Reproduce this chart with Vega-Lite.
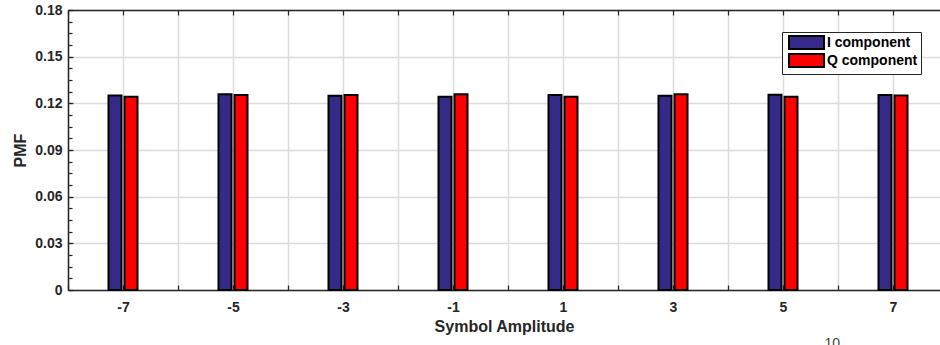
{
  "$schema": "https://vega.github.io/schema/vega-lite/v6.json",
  "width": 872,
  "height": 280,
  "autosize": {"type": "none"},
  "padding": {"left": 68, "top": 10, "right": 0, "bottom": 55},
  "config": {
    "font": "Liberation Sans",
    "view": {"stroke": null},
    "axis": {
      "labelFont": "Liberation Sans",
      "labelFontSize": 14,
      "labelFontWeight": "bold",
      "labelColor": "#262626",
      "titleFont": "Liberation Sans",
      "titleFontSize": 16,
      "titleFontWeight": "bold",
      "titleColor": "#262626",
      "domainColor": "#262626",
      "domainWidth": 1.5,
      "tickColor": "#262626",
      "tickWidth": 1.2,
      "gridColor": "#dcdcdc",
      "gridWidth": 1.5,
      "gridOpacity": 1
    }
  },
  "data": {
    "values": [
      {"amp": -7, "component": "I component", "pmf": 0.1250},
      {"amp": -7, "component": "Q component", "pmf": 0.1242},
      {"amp": -5, "component": "I component", "pmf": 0.1258},
      {"amp": -5, "component": "Q component", "pmf": 0.1254},
      {"amp": -3, "component": "I component", "pmf": 0.1248},
      {"amp": -3, "component": "Q component", "pmf": 0.1254},
      {"amp": -1, "component": "I component", "pmf": 0.1242},
      {"amp": -1, "component": "Q component", "pmf": 0.1258},
      {"amp": 1, "component": "I component", "pmf": 0.1253},
      {"amp": 1, "component": "Q component", "pmf": 0.1242},
      {"amp": 3, "component": "I component", "pmf": 0.1248},
      {"amp": 3, "component": "Q component", "pmf": 0.1258},
      {"amp": 5, "component": "I component", "pmf": 0.1255},
      {"amp": 5, "component": "Q component", "pmf": 0.1243},
      {"amp": 7, "component": "I component", "pmf": 0.1254},
      {"amp": 7, "component": "Q component", "pmf": 0.1251}
    ]
  },
  "title": {
    "text": "10",
    "orient": "bottom",
    "anchor": "end",
    "frame": "group",
    "fontSize": 14,
    "fontWeight": "normal",
    "color": "#444444",
    "offset": 3,
    "dx": -100
  },
  "layer": [
    {
      "mark": {"type": "point", "opacity": 0},
      "encoding": {
        "x": {
          "field": "amp",
          "type": "quantitative",
          "scale": {"domain": [-8, 7.8545], "nice": false, "zero": false},
          "axis": {
            "orient": "bottom",
            "values": [-8, -7, -6, -5, -4, -3, -2, -1, 0, 1, 2, 3, 4, 5, 6, 7],
            "labelExpr": "datum.value % 2 != 0 ? toString(datum.value) : ''",
            "title": "Symbol Amplitude",
            "grid": true,
            "ticks": true,
            "tickSize": -5,
            "labelPadding": 15,
            "titlePadding": 4
          }
        },
        "y": {
          "field": "pmf",
          "type": "quantitative",
          "scale": {"domain": [0, 0.18], "nice": false, "zero": true},
          "axis": {
            "orient": "left",
            "values": [0, 0.03, 0.06, 0.09, 0.12, 0.15, 0.18],
            "format": ".2~f",
            "title": "PMF",
            "grid": true,
            "ticks": true,
            "tickSize": -5,
            "labelPadding": 11,
            "titlePadding": 6
          }
        }
      }
    },
    {
      "mark": {"type": "point", "opacity": 0},
      "encoding": {
        "x": {
          "field": "amp",
          "type": "quantitative",
          "scale": {"domain": [-8, 7.8545], "nice": false, "zero": false},
          "axis": {
            "orient": "top",
            "values": [-8, -7, -6, -5, -4, -3, -2, -1, 0, 1, 2, 3, 4, 5, 6, 7],
            "labels": false,
            "grid": false,
            "ticks": true,
            "tickSize": -5,
            "title": null
          }
        },
        "y": {
          "field": "pmf",
          "type": "quantitative",
          "scale": {"domain": [0, 0.18], "nice": false, "zero": true},
          "axis": {
            "orient": "left",
            "values": [0, 0.0075, 0.015, 0.0225, 0.03, 0.0375, 0.045, 0.0525, 0.06, 0.0675, 0.075, 0.0825, 0.09, 0.0975, 0.105, 0.1125, 0.12, 0.1275, 0.135, 0.1425, 0.15, 0.1575, 0.165, 0.1725, 0.18],
            "labels": false,
            "grid": false,
            "domain": false,
            "ticks": true,
            "tickSize": -4,
            "title": null
          }
        }
      }
    },
    {
      "mark": {"type": "bar", "stroke": "#000000", "strokeWidth": 2},
      "encoding": {
        "x": {
          "field": "amp",
          "type": "ordinal",
          "scale": {
            "domain": [-7, -5, -3, -1, 1, 3, 5, 7],
            "paddingInner": 0.73636,
            "paddingOuter": 0.33182,
            "align": 0.5548
          },
          "axis": null
        },
        "xOffset": {
          "field": "component",
          "type": "nominal",
          "scale": {"paddingInner": 0.1875, "paddingOuter": 0}
        },
        "y": {
          "field": "pmf",
          "type": "quantitative",
          "scale": {"domain": [0, 0.18], "nice": false, "zero": true},
          "axis": null
        },
        "color": {
          "field": "component",
          "type": "nominal",
          "scale": {"domain": ["I component", "Q component"], "range": ["#352a87", "#ff0000"]},
          "legend": {
            "orient": "none",
            "legendX": 714,
            "legendY": 22,
            "title": null,
            "symbolType": "M-2.69,-1H2.69V1H-2.69Z",
            "symbolSize": 169,
            "symbolStrokeColor": "#000000",
            "symbolStrokeWidth": 2,
            "symbolOpacity": 1,
            "labelFont": "Liberation Sans",
            "labelFontWeight": "bold",
            "labelFontSize": 14,
            "labelColor": "#000000",
            "labelOffset": 13,
            "padding": 3,
            "symbolOffset": 14,
            "rowPadding": -3,
            "fillColor": "#ffffff",
            "strokeColor": "#262626",
            "cornerRadius": 0
          }
        }
      }
    }
  ],
  "resolve": {
    "scale": {"x": "independent"},
    "axis": {"x": "independent", "y": "independent"}
  }
}
